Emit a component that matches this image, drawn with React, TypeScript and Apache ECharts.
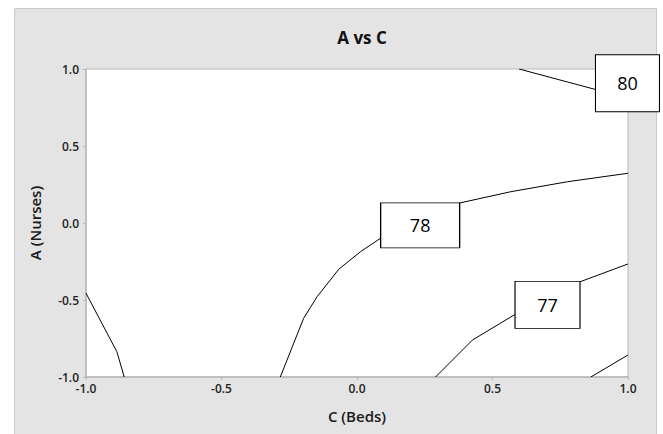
import React, { useEffect, useRef } from "react";
import * as echarts from "echarts";

const xTicks = [-1, -0.5, 0, 0.5, 1];
const yTicks = [-1, -0.5, 0, 0.5, 1];

const contourLeft: [number, number][] = [
  [-1.0, -0.456],
  [-0.886, -0.836],
  [-0.859, -1.0],
];
const contour78: [number, number][] = [
  [-0.283, -1.0],
  [-0.197, -0.619],
  [-0.147, -0.478],
  [-0.067, -0.3],
  [0.013, -0.186],
  [0.087, -0.099],
  [0.233, 0.02],
  [0.379, 0.13],
  [0.567, 0.203],
  [0.777, 0.268],
  [1.0, 0.323],
];
const contour80: [number, number][] = [
  [0.598, 1.0],
  [0.882, 0.866],
  [1.0, 0.84],
];
const contour77: [number, number][] = [
  [0.29, -1.0],
  [0.426, -0.76],
  [0.58, -0.597],
  [0.7, -0.49],
  [0.824, -0.381],
  [1.0, -0.266],
];
const contour76: [number, number][] = [
  [0.863, -1.0],
  [1.0, -0.857],
];

const labelValues = [80, 78, 77];
const labelX = [0.998, 0.233, 0.703];
const labelY = [0.907, -0.016, -0.532];

const boxSizes: Record<number, [number, number]> = {
  80: [64, 57],
  78: [79, 45],
  77: [65, 47],
};

const FONT = '"Open Sans", "Noto Sans", sans-serif';

export default function App() {
  const ref = useRef<HTMLDivElement>(null);
  useEffect(() => {
    document.body.style.margin = "0";
    if (!ref.current) return;
    const chart = echarts.init(ref.current, undefined, { renderer: "svg" });
    const lineStyle = { color: "#000", width: 1 };
    const mkLine = (data: [number, number][]) => ({
      type: "line",
      data,
      symbol: "none",
      lineStyle,
      clip: true,
      silent: true,
      z: 2,
    });
    chart.setOption({
      animation: false,
      graphic: [
        {
          type: "rect",
          shape: { x: 14.5, y: 8.5, width: 642, height: 440 },
          style: { fill: "#e4e4e4", stroke: "#c9c9c9", lineWidth: 1 },
          z: -10,
          silent: true,
        },
      ],
      title: {
        text: "A vs C",
        left: 357,
        textAlign: "center",
        top: 24,
        textStyle: { fontFamily: FONT, fontSize: 17, fontWeight: "bold", color: "#111" },
      },
      grid: {
        left: 86,
        top: 69,
        right: 35,
        bottom: 57,
        show: true,
        backgroundColor: "#fff",
        borderColor: "#b8b8b8",
        borderWidth: 1,
      },
      xAxis: {
        type: "value",
        min: -1,
        max: 1,
        interval: 0.5,
        name: "C (Beds)",
        nameLocation: "middle",
        nameGap: 31,
        nameTextStyle: { fontFamily: FONT, fontSize: 15, fontWeight: 600, color: "#1a1a1a" },
        axisLine: { show: true, onZero: false, lineStyle: { color: "#b8b8b8", width: 1.5 } },
        axisTick: { show: true, length: 3, lineStyle: { color: "#b8b8b8" } },
        splitLine: { show: false },
        axisLabel: {
          fontFamily: FONT,
          fontSize: 12,
          fontWeight: 600,
          color: "#222",
          margin: 5,
          formatter: (v: number) => (xTicks.includes(v) ? v.toFixed(1) : ""),
        },
      },
      yAxis: {
        type: "value",
        min: -1,
        max: 1,
        interval: 0.5,
        name: "A (Nurses)",
        nameLocation: "middle",
        nameGap: 44,
        nameTextStyle: { fontFamily: FONT, fontSize: 15, fontWeight: 600, color: "#1a1a1a" },
        axisLine: { show: true, onZero: false, lineStyle: { color: "#b8b8b8", width: 1.5 } },
        axisTick: { show: true, length: 3, lineStyle: { color: "#b8b8b8" } },
        splitLine: { show: false },
        axisLabel: {
          fontFamily: FONT,
          fontSize: 12,
          fontWeight: 600,
          color: "#222",
          margin: 7,
          formatter: (v: number) => (yTicks.includes(v) ? v.toFixed(1) : ""),
        },
      },
      series: [
        mkLine(contourLeft),
        mkLine(contour78),
        mkLine(contour80),
        mkLine(contour77),
        mkLine(contour76),
        {
          type: "scatter",
          clip: false,
          silent: true,
          z: 5,
          data: labelValues.map((v, i) => ({
            value: [labelX[i], labelY[i]],
            name: String(v),
            symbolSize: boxSizes[v],
          })),
          symbol: "rect",
          itemStyle: { color: "#fff", borderColor: "#000", borderWidth: 1, opacity: 1 },
          label: {
            show: true,
            position: "inside",
            formatter: (p: any) => p.name,
            fontFamily: FONT,
            fontSize: 18,
            color: "#000",
          },
        },
      ],
    });
    return () => chart.dispose();
  }, []);
  return <div ref={ref} style={{ width: 663, height: 434 }} />;
}
